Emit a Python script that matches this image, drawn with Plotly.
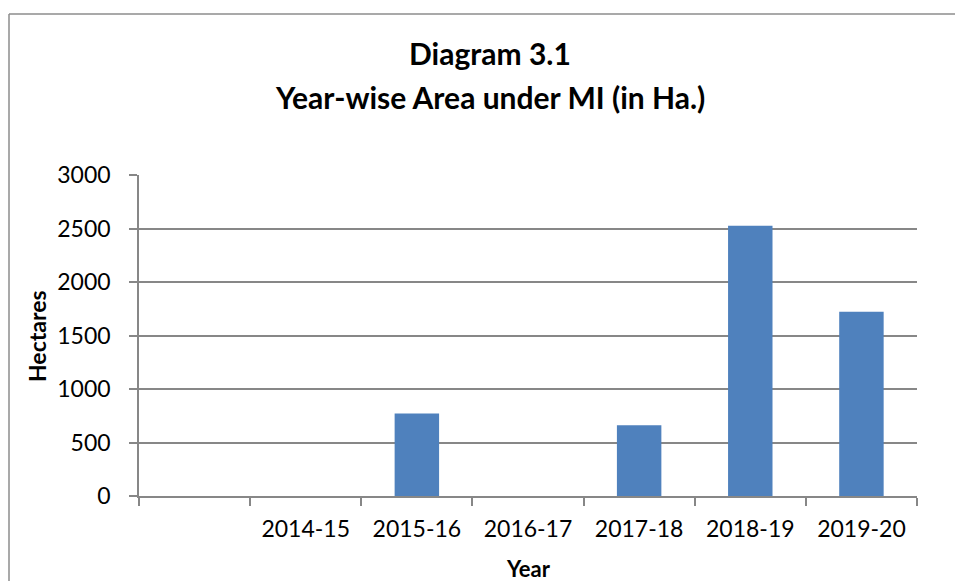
import plotly.graph_objects as go

categories = [" ", "2014-15", "2015-16", "2016-17", "2017-18", "2018-19", "2019-20"]
hectares = [None, 0, 772, 0, 662, 2525, 1721]
y_ticks = [0, 500, 1000, 1500, 2000, 2500, 3000]

W, H = 955, 581
L, R, T, B = 139, 38, 175, 85
pw, ph = W - L - R, H - T - B

def px(x):
    return (x - L) / pw

def py(y):
    return (H - B - y) / ph

FONT = "Lato, Calibri, Carlito, sans-serif"
GRID = "#878787"

fig = go.Figure(go.Bar(
    x=categories, y=hectares,
    marker=dict(color="#4F81BD", line=dict(width=0)),
    hoverinfo="x+y",
))

fig.update_layout(
    width=W, height=H,
    margin=dict(l=L, r=R, t=T, b=B),
    paper_bgcolor="white", plot_bgcolor="white",
    bargap=0.6,
    showlegend=False,
    font=dict(family=FONT, size=22, color="black"),
    annotations=[
        dict(text="<b>Diagram 3.1</b>", x=px(490), y=py(53), xref="paper", yref="paper",
             showarrow=False, font=dict(size=30, family=FONT), xanchor="center", yanchor="middle"),
        dict(text="<b>Year-wise Area under MI (in Ha.)</b>", x=px(490), y=py(97), xref="paper", yref="paper",
             showarrow=False, font=dict(size=30, family=FONT), xanchor="center", yanchor="middle"),
        dict(text="<b>Hectares</b>", x=px(37), y=py(336), xref="paper", yref="paper", textangle=-90,
             showarrow=False, font=dict(size=23, family=FONT), xanchor="center", yanchor="middle"),
        dict(text="<b>Year</b>", x=px(528), y=py(568), xref="paper", yref="paper",
             showarrow=False, font=dict(size=22, family=FONT), xanchor="center", yanchor="middle"),
    ],
    shapes=[
        dict(type="line", xref="paper", yref="paper", x0=px(9), x1=px(960), y0=py(14), y1=py(14),
             line=dict(color="#8C8C8C", width=1.5)),
        dict(type="line", xref="paper", yref="paper", x0=px(9), x1=px(9), y0=py(14), y1=py(600),
             line=dict(color="#8C8C8C", width=1.5)),
    ],
)

fig.update_xaxes(
    type="category", categoryorder="array", categoryarray=categories,
    tickson="boundaries", ticks="outside", ticklen=8, tickcolor=GRID, tickwidth=1.5,
    showline=True, linecolor=GRID, linewidth=1.5,
    showgrid=False, ticklabelstandoff=12,
    tickfont=dict(size=23, family=FONT, color="black"),
    fixedrange=True,
)
fig.update_yaxes(
    range=[0, 3000], tickvals=y_ticks, ticktext=[str(v) for v in y_ticks],
    ticks="outside", ticklen=8, tickcolor=GRID, tickwidth=1.5,
    showline=True, linecolor=GRID, linewidth=1.5,
    showgrid=True, gridcolor=GRID, gridwidth=1.5, zeroline=False,
    ticklabelstandoff=14,
    tickfont=dict(size=23, family=FONT, color="black"),
    fixedrange=True,
)

fig.write_html("out.html", config={"displayModeBar": False},
               post_script="document.body.style.margin='0';document.body.style.overflow='hidden';")
